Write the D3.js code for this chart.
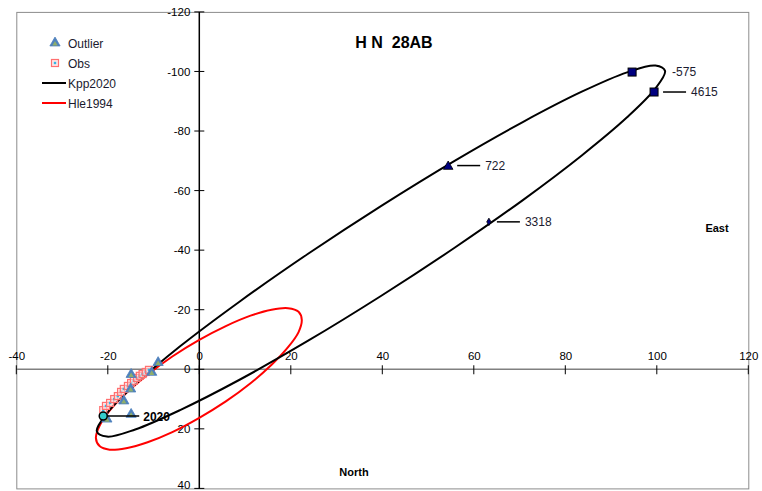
<!DOCTYPE html>
<html>
<head>
<meta charset="utf-8">
<script src="https://cdn.jsdelivr.net/npm/d3@7"></script>
<style>
  html, body { margin: 0; padding: 0; background: #fff; }
  svg { display: block; font-family: "Liberation Sans", Arial, sans-serif; }
</style>
</head>
<body>
<svg id="chart" width="762" height="491"></svg>
<script>
// Relative position of the pair HN 28AB (x: East offset, y: North offset)
const xTicks = [-40, -20, 0, 20, 40, 60, 80, 100, 120];
const yTicks = [-120, -100, -80, -60, -40, -20, 0, 20, 40];

// Kpp2020 orbit, traced as a closed loop
const kppX = [101.8, 99.7, 93.5, 83.6, 70.8, 55.8, 39.7, 23.7, 8.7, -4.2, -14.0, -20.2, -22.4, -20.2, -14.0, -4.2, 8.7, 23.7, 39.7, 55.8, 70.8, 83.6, 93.5, 99.7];
const kppY = [-100.2, -94.3, -84.6, -71.8, -56.9, -40.8, -24.6, -9.5, 3.6, 13.7, 20.2, 22.6, 20.8, 14.8, 5.1, -7.7, -22.6, -38.7, -54.8, -70.0, -83.1, -93.2, -99.7, -102.0];

// Hle1994 orbit, traced as a closed loop
const hleX = [22.4, 21.7, 19.4, 15.8, 11.2, 5.8, -0.1, -5.9, -11.3, -16.0, -19.6, -21.8, -22.6, -21.8, -19.6, -16.0, -11.3, -5.9, -0.1, 5.8, 11.2, 15.8, 19.4, 21.7];
const hleY = [-16.6, -12.5, -7.4, -1.5, 4.7, 10.8, 16.4, 21.1, 24.5, 26.5, 27.0, 25.8, 23.1, 19.0, 13.9, 8.0, 1.8, -4.3, -9.8, -14.5, -18.0, -20.0, -20.5, -19.3];

// Observations
const obsX = [-21.0, -20.4, -19.5, -18.6, -17.8, -17.1, -16.5, -15.6, -14.9, -14.3, -13.6, -13.0, -12.4, -11.7, -11.0];
const obsY = [13.7, 12.3, 11.3, 10.0, 9.0, 7.6, 6.6, 5.6, 4.6, 3.9, 2.9, 2.2, 1.6, 0.9, 0.2];

// Rejected observations
const outX = [-14.9, -10.4, -9.0, -14.9, -20.2, -16.5, -15.0];
const outY = [1.4, 0.7, -2.6, 14.8, 16.4, 10.3, 6.3];

// Ephemeris markers on the Kpp2020 orbit
const epochLabels = ["-575", "4615", "722", "3318"];
const epochX = [94.6, 99.4, 54.4, 63.3];
const epochY = [-99.8, -93.1, -68.4, -49.5];
const epochShape = ["square", "square", "triangle", "diamond"];

// Current-epoch position
const nowLabel = "2020";
const nowX = [-21.0];
const nowY = [15.7];

const svg = d3.select("#chart");
const plotL = 16.3, plotR = 748.3, plotT = 11.9, plotB = 488.4;

const x = d3.scaleLinear().domain([-40, 120]).range([plotL, plotR]);
const y = d3.scaleLinear().domain([-120, 40]).range([plotT, plotB]);
const tickText = d => String(d);

// plot area frame
svg.append("rect")
  .attr("x", plotL + 0.5).attr("y", plotT + 0.5)
  .attr("width", plotR - plotL).attr("height", plotB - plotT)
  .attr("fill", "#fff").attr("stroke", "#8c8c8c").attr("stroke-width", 1);

// horizontal axis through y = 0
const gx = svg.append("g").attr("transform", `translate(0,${y(0)})`);
gx.append("line").attr("x1", plotL).attr("x2", plotR)
  .attr("stroke", "#808080").attr("stroke-width", 1.5);
gx.call(d3.axisTop(x).tickValues(xTicks).tickSize(0).tickPadding(9).tickFormat(tickText))
  .call(g => g.select(".domain").remove())
  .call(g => g.selectAll("text").attr("fill", "#000").attr("font-size", 11.5)
    .attr("font-family", "Liberation Sans, Arial, sans-serif"));
gx.selectAll(".crossTick").data(xTicks).enter().append("line")
  .attr("x1", d => x(d)).attr("x2", d => x(d)).attr("y1", -4).attr("y2", 5)
  .attr("stroke", "#000").attr("stroke-width", 1);

// vertical axis through x = 0
const gy = svg.append("g").attr("transform", `translate(${x(0)},0)`);
gy.append("line").attr("y1", plotT).attr("y2", plotB)
  .attr("stroke", "#000").attr("stroke-width", 1.5);
gy.call(d3.axisLeft(y).tickValues(yTicks).tickSize(0).tickPadding(9).tickFormat(tickText))
  .call(g => g.select(".domain").remove())
  .call(g => g.selectAll("text").attr("fill", "#000").attr("font-size", 11.5)
    .attr("font-family", "Liberation Sans, Arial, sans-serif"));
// keep the lowest label inside the frame
gy.selectAll(".tick").filter(d => d === 40).select("text").attr("dy", "0.05em");
gy.selectAll(".crossTick").data(yTicks).enter().append("line")
  .attr("y1", d => y(d)).attr("y2", d => y(d)).attr("x1", -5).attr("x2", 5)
  .attr("stroke", "#000").attr("stroke-width", 1);

// orbits
const loop = d3.line().x(d => x(d[0])).y(d => y(d[1])).curve(d3.curveCatmullRomClosed.alpha(0.5));
svg.append("path").datum(d3.zip(hleX, hleY)).attr("d", loop)
  .attr("fill", "none").attr("stroke", "#ff0000").attr("stroke-width", 2);
svg.append("path").datum(d3.zip(kppX, kppY)).attr("d", loop)
  .attr("fill", "none").attr("stroke", "#000").attr("stroke-width", 2);

// marker helpers
function triangle(g, cx, cy, s) {
  g.append("path").attr("d", d3.symbol(d3.symbolTriangle, s * s * 0.45)())
    .attr("transform", `translate(${cx},${cy + 1})`)
    .attr("fill", "#4f81bd").attr("stroke", "#4a7ebb").attr("stroke-width", 0.8);
  g.append("path").attr("d", d3.symbol(d3.symbolTriangle, s * s * 0.12)())
    .attr("transform", `translate(${cx},${cy + 2})`)
    .attr("fill", "#8fae6b");
}
function obsSquare(g, cx, cy) {
  g.append("rect").attr("x", cx - 3.5).attr("y", cy - 3.5).attr("width", 7).attr("height", 7)
    .attr("fill", "#ffd6d6").attr("fill-opacity", 0.6).attr("stroke", "#ff7070").attr("stroke-width", 1.2);
  g.append("rect").attr("x", cx - 1.2).attr("y", cy - 1.2).attr("width", 2.4).attr("height", 2.4)
    .attr("fill", "#33b5e5");
}

// observations and outliers
const gObs = svg.append("g");
d3.zip(obsX, obsY).forEach(([a, b]) => obsSquare(gObs, x(a), y(b)));
const gOut = svg.append("g");
d3.zip(outX, outY).forEach(([a, b]) => triangle(gOut, x(a), y(b), 10));

// ephemeris markers with callouts
const gEp = svg.append("g");
epochLabels.forEach((lab, i) => {
  const cx = x(epochX[i]), cy = y(epochY[i]);
  const shape = epochShape[i];
  if (shape === "square") {
    gEp.append("rect").attr("x", cx - 4).attr("y", cy - 4).attr("width", 8).attr("height", 8)
      .attr("fill", "#000080").attr("stroke", "#000").attr("stroke-width", 1);
  } else if (shape === "triangle") {
    gEp.append("path").attr("d", d3.symbol(d3.symbolTriangle, 40)())
      .attr("transform", `translate(${cx},${cy + 1})`)
      .attr("fill", "#000080").attr("stroke", "#000").attr("stroke-width", 0.8);
  } else {
    gEp.append("path").attr("d", d3.symbol(d3.symbolDiamond, 16)())
      .attr("transform", `translate(${cx},${cy})`)
      .attr("fill", "#000080").attr("stroke", "#000").attr("stroke-width", 0.8);
  }
  let tx;
  if (lab === "-575") {
    tx = cx + 40;
  } else {
    const x1 = cx + (shape === "diamond" ? 8 : 9), x2 = x1 + 23;
    gEp.append("line").attr("x1", x1).attr("x2", x2).attr("y1", cy).attr("y2", cy)
      .attr("stroke", "#000").attr("stroke-width", 1.5);
    tx = x2 + 5;
  }
  gEp.append("text").attr("x", tx).attr("y", cy + 4).attr("font-size", 12)
    .attr("fill", "#1a1a2e").text(lab);
});

// current epoch
const nx = x(nowX[0]), ny = y(nowY[0]);
svg.append("line").attr("x1", nx + 4).attr("x2", nx + 36).attr("y1", ny).attr("y2", ny)
  .attr("stroke", "#000").attr("stroke-width", 1.5);
svg.append("circle").attr("cx", nx).attr("cy", ny).attr("r", 4)
  .attr("fill", "#33cccc").attr("stroke", "#000").attr("stroke-width", 1.5);
svg.append("text").attr("x", nx + 40).attr("y", ny + 4.5).attr("font-size", 12)
  .attr("font-weight", "bold").attr("fill", "#000").text(nowLabel);

// title and direction labels
svg.append("text").attr("x", 394).attr("y", 48).attr("text-anchor", "middle")
  .attr("font-size", 16).attr("font-weight", "bold").style("white-space", "pre")
  .text("H N  28AB");
svg.append("text").attr("x", 717).attr("y", 232).attr("text-anchor", "middle")
  .attr("font-size", 11).attr("font-weight", "bold").text("East");
svg.append("text").attr("x", 354).attr("y", 476).attr("text-anchor", "middle")
  .attr("font-size", 11).attr("font-weight", "bold").text("North");

// legend
const legendNames = ["Outlier", "Obs", "Kpp2020", "Hle1994"];
const lg = svg.append("g");
legendNames.forEach((name, i) => {
  const ly = 43 + i * 20;
  if (name === "Outlier") triangle(lg, 55, ly - 1, 10);
  else if (name === "Obs") obsSquare(lg, 55, ly);
  else lg.append("line").attr("x1", 42).attr("x2", 66).attr("y1", ly).attr("y2", ly)
    .attr("stroke", name === "Kpp2020" ? "#000" : "#ff0000").attr("stroke-width", 2);
  lg.append("text").attr("x", 68).attr("y", ly + 4.5).attr("font-size", 12)
    .attr("fill", "#1a1a2e").text(name);
});
</script>
</body>
</html>
